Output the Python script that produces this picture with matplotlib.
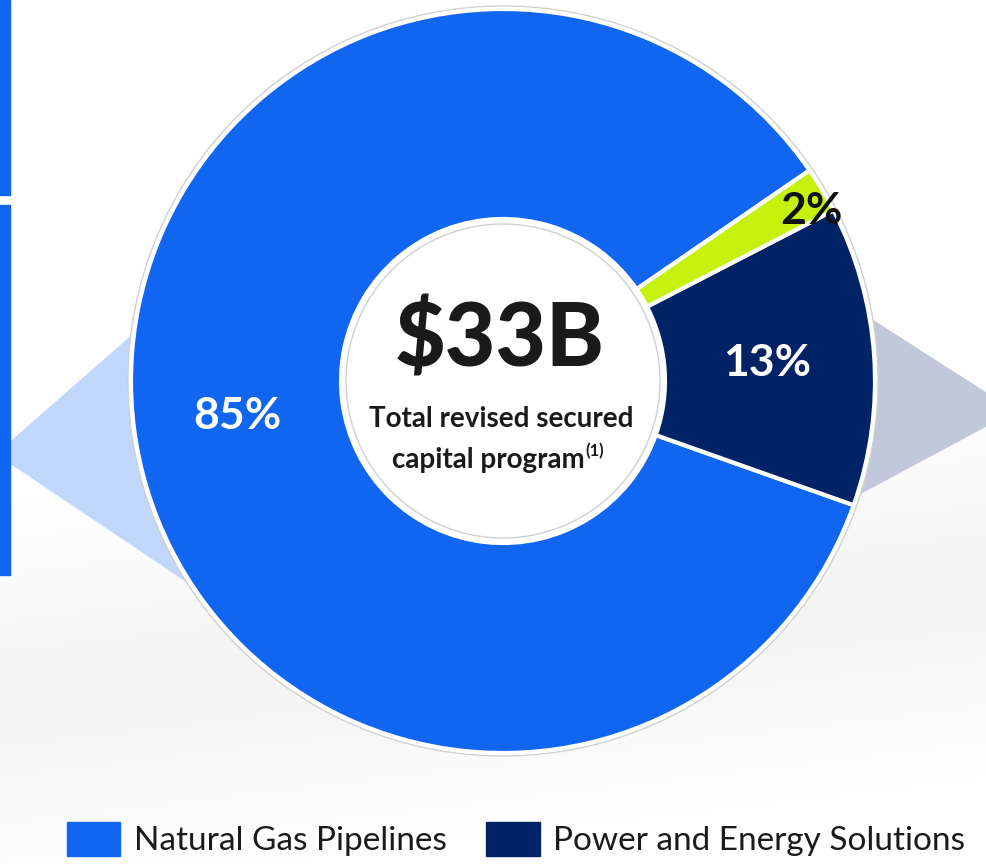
import numpy as np
import matplotlib
matplotlib.use("Agg")
import matplotlib.pyplot as plt
import matplotlib.patches as mpatches

# ── data ──────────────────────────────────────────────────────────────
segments = ["Natural Gas Pipelines", "Power and Energy Solutions", "Other"]
shares = [85, 13, 2]
seg_colors = ["#1066F0", "#002366", "#C4F20C"]
pct_labels = ["85%", "13%", "2%"]
pct_colors = ["white", "white", "#111111"]
legend_items = ["Natural Gas Pipelines", "Power and Energy Solutions"]
center_value = "\\$33B"
center_caption = ["Total revised secured", "capital program"]
footnote_mark = "(1)"

# ── layout (pixels of the 986x864 canvas) ────────────────────────────
W, H = 986, 864
CX, CY = 503, H - 381
R_OUT, R_IN = 372, 162
START = 34.5

plt.rcParams["font.family"] = ["Lato", "DejaVu Sans"]

fig = plt.figure(figsize=(W / 100, H / 100), dpi=100)
ax = fig.add_axes([0, 0, 1, 1])

# soft grey background texture at the bottom
yy, xx = np.mgrid[0:H, 0:W]
band = np.exp(-((H - yy) - (700 - 0.12 * xx)) ** 2 / (2 * 90.0 ** 2))
shade = 1 - 0.04 * band
bg = np.dstack([shade, shade, shade])
ax.imshow(bg, extent=[0, W, 0, H], origin="lower", zorder=0)

# decorative diamonds behind the donut
left_dia = [(-3, H - 454), (200, H - 276), (300, H - 450), (250, H - 624)]
right_dia = [(1014, H - 411), (830, H - 293), (760, H - 420), (820, H - 515)]
ax.add_patch(mpatches.Polygon(left_dia, closed=True, color="#C0D6FA", zorder=1))
ax.add_patch(mpatches.Polygon(right_dia, closed=True, color="#C0C8DA", zorder=1))

# side bars at left edge
ax.add_patch(mpatches.Rectangle((0, H - 195), 10, 195, color="#1066F0", zorder=1))
ax.add_patch(mpatches.Rectangle((0, H - 575), 10, 370, color="#1066F0", zorder=1))

# ── donut ────────────────────────────────────────────────────────────
ax.add_patch(mpatches.Circle((CX, CY), R_OUT + 3, facecolor="white",
                             edgecolor="#D0D0D0", lw=1, zorder=2))
wedges, _ = ax.pie(shares, colors=seg_colors, startangle=START, counterclock=True,
                   center=(CX, CY), radius=R_OUT, frame=True,
                   wedgeprops=dict(width=R_OUT - R_IN, edgecolor="white", linewidth=3))
for w in wedges:
    w.set_zorder(3)
ax.set_xlim(0, W)
ax.set_ylim(0, H)
ax.set_aspect("equal")
ax.axis("off")

# inner white disc with faint outline
ax.add_patch(mpatches.Circle((CX, CY), R_IN, facecolor="white", edgecolor="none", zorder=4))
ax.add_patch(mpatches.Circle((CX, CY), R_IN - 5, facecolor="white",
                             edgecolor="#D0D0D0", lw=1, zorder=4))

# percentage labels at wedge mid-angles
label_r = [268, 265, 352]
label_shift = [0, 0, -2.0]
for w, txt, col, r, sh in zip(wedges, pct_labels, pct_colors, label_r, label_shift):
    mid = np.deg2rad((w.theta1 + w.theta2) / 2 + sh)
    ax.text(CX + r * np.cos(mid), CY + r * np.sin(mid), txt, color=col,
            fontsize=32, fontweight="bold", ha="center", va="center", zorder=6)

# center text
ax.text(CX - 3, H - 341, center_value, fontsize=63, fontweight="black",
        color="#1A1A1A", ha="center", va="center", zorder=6)
ax.text(CX - 2, H - 419, center_caption[0], fontsize=20, fontweight="bold",
        color="#1A1A1A", ha="center", va="center", zorder=6)
t2 = ax.text(CX - 15, H - 460, center_caption[1], fontsize=20, fontweight="bold",
             color="#1A1A1A", ha="center", va="center", zorder=6)
fig.canvas.draw()
bb = t2.get_window_extent().transformed(ax.transData.inverted())
ax.text(bb.x1 + 1, H - 451, footnote_mark, fontsize=12, fontweight="bold",
        color="#1A1A1A", ha="left", va="center", zorder=6)

# ── legend ───────────────────────────────────────────────────────────
handles = [mpatches.Patch(color=c) for c in seg_colors[:len(legend_items)]]
ax.legend(handles, legend_items, loc="center", bbox_to_anchor=(516 / W, 1 - 839 / H),
          ncol=2, frameon=False, fontsize=24, handlelength=1.6, handleheight=1.2,
          handletextpad=0.4, columnspacing=1.2, labelcolor="#1A1A1A",
          borderaxespad=0, borderpad=0)

fig.savefig("out.png", dpi=100, facecolor="white")
